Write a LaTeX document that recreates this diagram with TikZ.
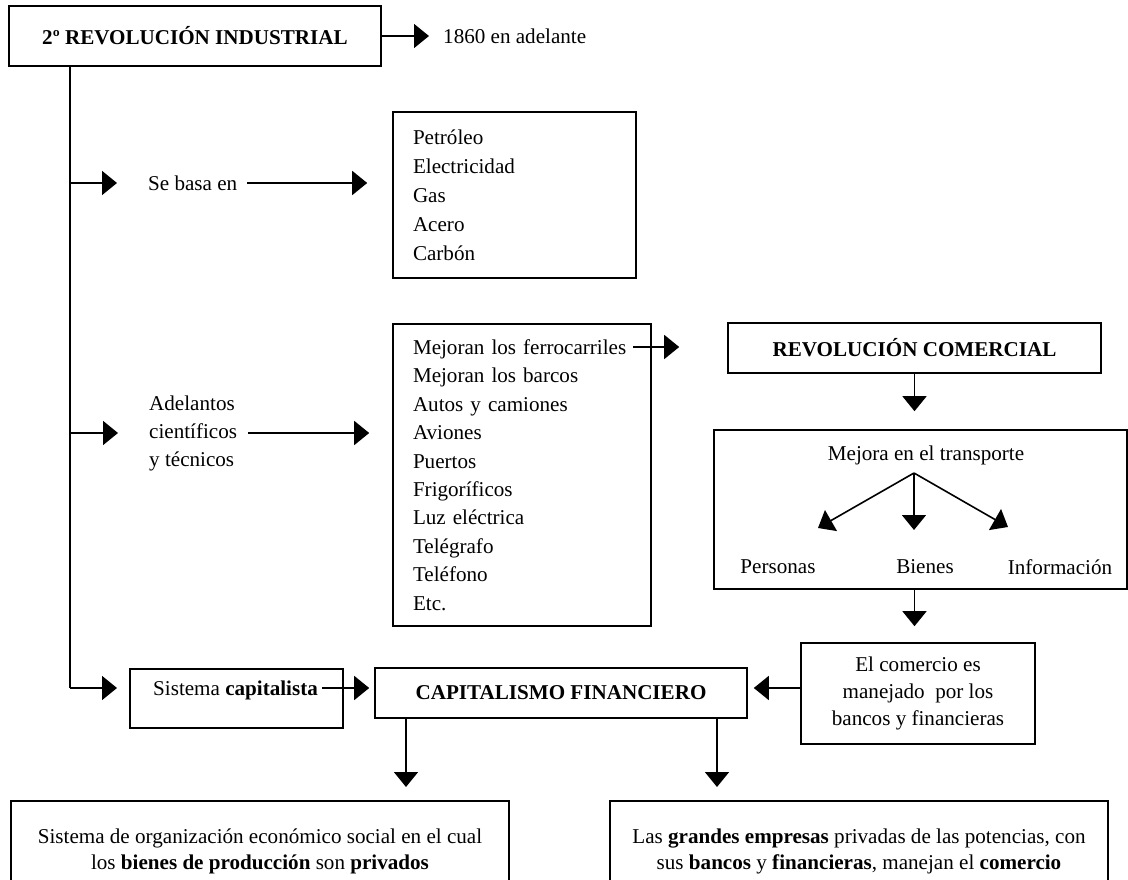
\documentclass[tikz,border=0pt]{standalone}
\usepackage{fontspec}
\setmainfont{Liberation Serif}
\usetikzlibrary{arrows.meta}
\begin{document}
\begin{tikzpicture}[x=1pt,y=-1pt,
  every node/.style={font=\fontsize{21.1}{28}\selectfont, inner sep=0pt},
  box/.style={draw, line width=1.6pt, inner sep=0pt},
  arr/.style={line width=1.6pt, -{Triangle[length=15pt,width=24pt]}},
  ln/.style={line width=1.6pt}]
\useasboundingbox (0,0) rectangle (1128,880);

% title
\node[box, minimum width=372pt, minimum height=60pt] (title) at (195,36) {\textbf{2º REVOLUCIÓN INDUSTRIAL}};
\node[anchor=west] (year) at (443,36) {1860 en adelante};
\draw[arr, shorten >=14pt] (title.east) -- (year.west);

% spine
\coordinate (s0) at (70,66);
\coordinate (s1) at (70,183);
\coordinate (s2) at (70,433);
\coordinate (s3) at (70,688);
\draw[ln] (s0) -- (s3);

% se basa en
\node[anchor=west] (basa) at (148,183) {Se basa en};
\draw[arr, shorten >=31pt] (s1) -- (basa.west);
\node[box, text width=203pt, inner xsep=20pt, minimum height=166pt, align=left,
      font=\fontsize{21.1}{29}\selectfont] (petro) at (514.5,195)
      {Petróleo\\Electricidad\\Gas\\Acero\\Carbón};
\draw[arr, shorten <=10pt, shorten >=25pt] (basa.east) -- (petro.west |- basa.east);

% adelantos
\node[anchor=west, align=left] (adel) at (149,433) {Adelantos\\científicos\\y técnicos};
\draw[arr, shorten >=31pt] (s2) -- (adel.west |- s2);
\node[box, text width=218pt, inner xsep=20pt, minimum height=302pt, align=left,
      font=\fontsize{21.1}{28.4}\selectfont] (list) at (522,475)
      {Mejoran los ferrocarriles\\Mejoran los barcos\\Autos y camiones\\Aviones\\Puertos\\Frigoríficos\\Luz eléctrica\\Telégrafo\\Teléfono\\Etc.};
\draw[arr, shorten <=11pt, shorten >=23pt] (adel.east |- s2) -- (list.west |- s2);

% revolucion comercial
\node[box, minimum width=373pt, minimum height=50pt] (revcom) at (914.5,348) {\textbf{REVOLUCIÓN COMERCIAL}};
\coordinate (ferro) at (633,347);
\draw[arr, shorten >=48pt] (ferro) -- (revcom.west |- ferro);

% mejora en el transporte
\node[box, minimum width=413pt, minimum height=159pt] (mejora) at (920.5,509.5) {};
\draw[arr, shorten >=18pt] (revcom.south) -- (revcom.south |- mejora.north);
\node (mejtxt) at (926,455) {Mejora en el transporte};
\coordinate (mo) at (914,473);
\coordinate (tl) at (818,528);
\coordinate (tc) at (914,530);
\coordinate (tr) at (1008,527);
\draw[arr] (mo) -- (tl);
\draw[arr] (mo) -- (tc);
\draw[arr] (mo) -- (tr);
\node (pers) at (778,567) {Personas};
\node (bien) at (925,567) {Bienes};
\node (info) at (1060,567) {Información};

% el comercio
\node[box, minimum width=234pt, minimum height=101pt, align=center,
      font=\fontsize{21.1}{27}\selectfont] (comercio) at (918,693.5)
      {El comercio es\\manejado\ \ por los\\bancos y financieras};
\draw[arr, shorten >=16pt] (mejora.south -| revcom.south) -- (revcom.south |- comercio.north);

% capitalismo
\node[box, minimum width=372pt, minimum height=50pt] (capfin) at (561,693) {\textbf{CAPITALISMO FINANCIERO}};
\draw[arr, shorten >=6pt] (comercio.west |- s3) -- (capfin.east |- s3);

\node[box, minimum width=213pt, minimum height=59pt, anchor=north west] (sistema) at (129,668) {};
\node[anchor=west] (sistxt) at (153,690) {Sistema \textbf{capitalista}};
\draw[arr, shorten >=12pt] (s3) -- (sistema.west |- s3);
\draw[arr, shorten <=4pt, shorten >=5pt] (sistxt.east |- s3) -- (capfin.west |- s3);

% bottom
\node[box, minimum width=498pt, minimum height=100pt, anchor=north] (bl) at (260,800) {};
\node[box, minimum width=498pt, minimum height=100pt, anchor=north] (br) at (859,800) {};
\coordinate (b1) at (406,718);
\coordinate (b2) at (717,718);
\draw[arr, shorten >=13pt] (b1) -- (b1 |- bl.north);
\draw[arr, shorten >=13pt] (b2) -- (b2 |- br.north);
\node[align=center, font=\fontsize{21.1}{26}\selectfont] (bltxt) at (260,851)
  {Sistema de organización económico social en el cual\\los \textbf{bienes de producción} son \textbf{privados}};
\node[align=center, font=\fontsize{21.1}{26}\selectfont] (brtxt) at (859,851)
  {Las \textbf{grandes empresas} privadas de las potencias, con\\sus \textbf{bancos} y \textbf{financieras}, manejan el \textbf{comercio}};
\end{tikzpicture}
\end{document}
